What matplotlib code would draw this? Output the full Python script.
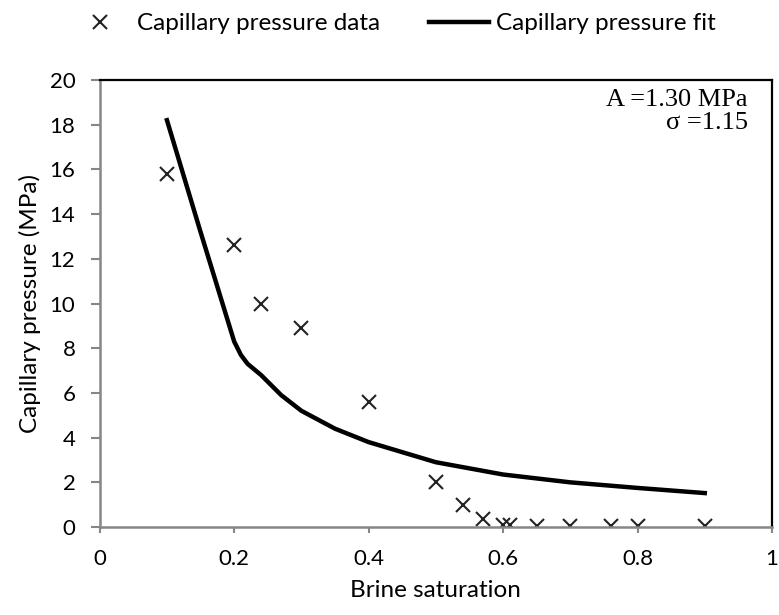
import matplotlib.pyplot as plt

# Measured capillary pressure vs brine saturation
sat_data = [0.1, 0.2, 0.24, 0.3, 0.4, 0.5, 0.54, 0.57, 0.6, 0.61, 0.65, 0.7, 0.76, 0.8, 0.9]
pc_data = [15.8, 12.6, 10.0, 8.9, 5.6, 2.0, 1.0, 0.35, 0.1, 0.1, 0.05, 0.05, 0.05, 0.05, 0.05]

# Fitted curve
sat_fit = [0.1, 0.15, 0.2, 0.21, 0.22, 0.24, 0.27, 0.3, 0.35, 0.4, 0.5, 0.6, 0.7, 0.8, 0.9]
pc_fit = [18.2, 13.2, 8.3, 7.7, 7.3, 6.8, 5.9, 5.2, 4.4, 3.8, 2.9, 2.35, 2.0, 1.75, 1.52]

xticks = [0, 0.2, 0.4, 0.6, 0.8, 1]
xtick_labels = ['0', '0.2', '0.4', '0.6', '0.8', '1']
yticks = list(range(0, 21, 2))

plt.rcParams['font.family'] = ['Lato', 'DejaVu Sans']

fig = plt.figure(figsize=(7.79, 6.15), dpi=100)
ax = fig.add_axes([0.128, 0.143, 0.863, 0.727])

ax.plot(sat_data, pc_data, linestyle='none', marker='x', color='#222222',
        markersize=10, markeredgewidth=1.5, label='Capillary pressure data')
ax.plot(sat_fit, pc_fit, color='black', linewidth=3.2, label='Capillary pressure fit')

ax.set_xlim(0, 1)
ax.set_ylim(0, 20)
ax.set_xticks(xticks)
ax.set_xticklabels(xtick_labels)
ax.set_yticks(yticks)
ax.tick_params(labelsize=16, colors='#868686', width=1.5, labelcolor='black')
ax.tick_params(axis='y', length=6.5, pad=11)
ax.tick_params(axis='x', length=4.5, pad=11)

for side in ('left', 'bottom'):
    ax.spines[side].set_color('#868686')
    ax.spines[side].set_linewidth(1.8)
for side in ('top', 'right'):
    ax.spines[side].set_color('black')
    ax.spines[side].set_linewidth(1.6)

ax.set_xlabel('Brine saturation', fontsize=17.5, labelpad=8)
ax.set_ylabel('Capillary pressure (MPa)', fontsize=17.5, labelpad=6)

ax.text(0.964, 0.98, 'A =1.30 MPa\n\u03c3 =1.15', transform=ax.transAxes,
        ha='right', va='top', fontsize=19, family='Liberation Serif', linespacing=1.05)

fig.legend(loc='center left', bbox_to_anchor=(0.09, 0.961), ncol=2, frameon=False,
           fontsize=17.5, handlelength=2.5, columnspacing=2.0, handletextpad=0.25,
           borderpad=0, borderaxespad=0)

fig.savefig('out.png', dpi=100)
